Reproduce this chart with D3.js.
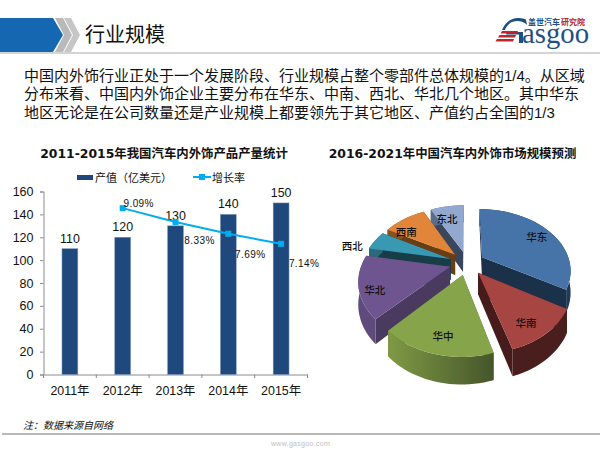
<!DOCTYPE html>
<html>
<head>
<meta charset="utf-8">
<script src="https://cdn.jsdelivr.net/npm/d3@7/dist/d3.min.js"></script>
<style>
  html, body { margin: 0; padding: 0; background: #fff; }
  text { font-family: "Liberation Sans", "Noto Sans CJK SC", sans-serif; fill: #111; }
</style>
</head>
<body>
<div id="chart-area"></div>
<script>
const years = ["2011年", "2012年", "2013年", "2014年", "2015年"];
const outputValues = [110, 120, 130, 140, 150];
const growthValues = [null, 9.09, 8.33, 7.69, 7.14];
const yTicks = [0, 20, 40, 60, 80, 100, 120, 140, 160];

const regions = ["华东", "华南", "华中", "华北", "西北", "西南", "东北"];
const regionShares = [33.5, 12, 16.5, 16, 5, 9.5, 7.5];
const regionTop = ["#4674a8", "#a64542", "#86a44a", "#6f5590", "#3a99b2", "#e0853a", "#92a8cf"];
const regionSide = ["#1b3049", "#451c1b", "#566b30", "#4a3a60", "#173e48", "#6b3d14", "#39465c"];
const regionOuter = ["#20395a", "#4a1e1c", "url(#greenWall)", "#5e4a7b", "#2a6a7c", "#8a5220", "#5a6c8c"];

const introLines = [
  "中国内外饰行业正处于一个发展阶段、行业规模占整个零部件总体规模的1/4。从区域",
  "分布来看、中国内外饰企业主要分布在华东、中南、西北、华北几个地区。其中华东",
  "地区无论是在公司数量还是产业规模上都要领先于其它地区、产值约占全国的1/3"
];

const canvas = d3.select("#chart-area").append("svg").attr("width", 600).attr("height", 450).style("display", "block");

const greenWall = canvas.append("defs").append("linearGradient").attr("id", "greenWall");
greenWall.append("stop").attr("offset", "0%").attr("stop-color", "#7f9a45");
greenWall.append("stop").attr("offset", "100%").attr("stop-color", "#45562a");

// header
canvas.append("polygon").attr("points", "0,18 53,18 63,35 53,52 0,52").attr("fill", "#1467b0");
canvas.append("polygon").attr("points", "55,18 63,18 72,35 63,52 55,52 64,35").attr("fill", "#b9b9b9");
canvas.append("polygon").attr("points", "64,18 71,18 80,35 71,52 64,52 73,35").attr("fill", "#c6c6c6");
canvas.append("rect").attr("x", 0).attr("y", 52).attr("width", 600).attr("height", 2).attr("fill", "#d4d4d4");
canvas.append("text").attr("x", 85).attr("y", 42).attr("font-size", 20).text("行业规模");

// logo
const logo = canvas.append("g");
logo.append("text").attr("x", 528).attr("y", 25).attr("font-size", 8).attr("font-weight", "bold")
  .style("fill", "#1d4f85").text("盖世汽车");
logo.append("text").attr("x", 561).attr("y", 25).attr("font-size", 8).attr("font-weight", "bold")
  .style("fill", "#b8262c").text("研究院");
logo.append("path").attr("d", "M526,19.5 L527,25 C523,20.5 514,19.5 509,24 C507,26 505.5,28 505,30 L502,30 C505,22 512,17.5 519,18 C522,18.2 524,18.7 526,19.5Z").attr("fill", "#1d4f85");
logo.append("path").attr("d", "M507,32 L523,32 L523,43 L519,43 L519,34.5 L506,34.5Z").attr("fill", "#1d4f85");
logo.append("text").attr("x", 522).attr("y", 43).attr("font-size", 30).attr("textLength", 67)
  .attr("lengthAdjust", "spacingAndGlyphs")
  .style("font-family", "Liberation Serif").style("fill", "#1d4f85").text("asgoo");
[0, 1, 2].forEach(i => {
  logo.append("polygon")
    .attr("points", `${502 - i * 2.5},${31 + i * 4} ${518 - i * 2},${31 + i * 4} ${517 - i * 2},${33.6 + i * 4} ${500.5 - i * 2.5},${33.6 + i * 4}`)
    .attr("fill", "#c0272d");
});

// intro text
canvas.selectAll(".intro").data(introLines).enter().append("text")
  .attr("class", "intro")
  .attr("x", 24)
  .attr("y", (d, i) => 80.5 + i * 18.5)
  .attr("font-size", 15)
  .text(d => d);

// chart titles
const titleFont = "\"DejaVu Sans\", \"Noto Sans CJK SC\", sans-serif";
canvas.append("text").attr("x", 164).attr("y", 157.5).attr("text-anchor", "middle").attr("font-size", 12.4)
  .attr("font-weight", "bold").style("font-family", titleFont).text("2011-2015年我国汽车内外饰产品产量统计");
canvas.append("text").attr("x", 452.5).attr("y", 157.5).attr("text-anchor", "middle").attr("font-size", 12.4)
  .attr("font-weight", "bold").style("font-family", titleFont).text("2016-2021年中国汽车内外饰市场规模预测");

// bar chart
const xScale = d3.scaleBand().domain(years).range([43.5, 307.5]).paddingInner(0.7).paddingOuter(0.35);
const yScale = d3.scaleLinear().domain([0, 160]).range([374.5, 191.5]);
const growthScale = d3.scaleLinear().domain([0, 10]).range([374.5, 191.5]);
const xMid = d => xScale(d) + xScale.bandwidth() / 2;

const yAxis = d3.axisLeft(yScale).tickValues(yTicks).tickSize(3.5).tickPadding(6.5);
const yGroup = canvas.append("g").attr("transform", "translate(43.5,0)").call(yAxis);
yGroup.selectAll("text").attr("font-size", 12.5);
yGroup.selectAll("line, path").attr("stroke", "#8c8c8c");

const xAxis = d3.axisBottom(xScale).tickSize(0).tickPadding(12);
const xGroup = canvas.append("g").attr("transform", "translate(0,374.5)").call(xAxis);
xGroup.selectAll("text").attr("font-size", 12.4);
xGroup.selectAll("path").attr("stroke", "#8c8c8c");
d3.range(years.length + 1).forEach(i => {
  const tx = 43.5 + i * (264 / years.length);
  canvas.append("line").attr("x1", tx).attr("x2", tx).attr("y1", 374.5).attr("y2", 378).attr("stroke", "#8c8c8c");
});

canvas.selectAll(".bar").data(outputValues).enter().append("rect")
  .attr("class", "bar")
  .attr("x", (d, i) => xScale(years[i]))
  .attr("y", d => yScale(d))
  .attr("width", xScale.bandwidth())
  .attr("height", d => yScale(0) - yScale(d))
  .attr("fill", "#1f497d")
  .attr("stroke", "#7f97b5")
  .attr("stroke-width", 0.5);

canvas.selectAll(".bar-label").data(outputValues).enter().append("text")
  .attr("class", "bar-label")
  .attr("x", (d, i) => xMid(years[i]))
  .attr("y", d => yScale(d) - 6)
  .attr("text-anchor", "middle")
  .attr("font-size", 12.4)
  .text(d => d);

// growth line
const growthRows = years.map((y, i) => ({ year: y, value: growthValues[i] })).filter(d => d.value !== null);
const growthLine = d3.line().x(d => xMid(d.year)).y(d => growthScale(d.value));
canvas.append("path").datum(growthRows).attr("d", growthLine).attr("fill", "none").attr("stroke", "#00aeef").attr("stroke-width", 2);
canvas.selectAll(".growth-pt").data(growthRows).enter().append("rect")
  .attr("class", "growth-pt")
  .attr("x", d => xMid(d.year) - 3)
  .attr("y", d => growthScale(d.value) - 3)
  .attr("width", 6).attr("height", 6)
  .attr("fill", "#00aeef");

const growthOffsets = [[16, -1], [24, 22], [22, 24], [23, 23]];
canvas.selectAll(".growth-label").data(growthRows).enter().append("text")
  .attr("class", "growth-label")
  .attr("x", (d, i) => xMid(d.year) + growthOffsets[i][0])
  .attr("y", (d, i) => growthScale(d.value) + growthOffsets[i][1])
  .attr("text-anchor", "middle")
  .attr("font-size", 10)
  .attr("letter-spacing", 0.4)
  .text(d => d.value.toFixed(2) + "%");

// legend
canvas.append("rect").attr("x", 77).attr("y", 175).attr("width", 16).attr("height", 5).attr("fill", "#1f497d");
canvas.append("text").attr("x", 95).attr("y", 182).attr("font-size", 11).text("产值（亿美元）");
canvas.append("line").attr("x1", 193).attr("x2", 211).attr("y1", 177).attr("y2", 177).attr("stroke", "#00aeef").attr("stroke-width", 2);
canvas.append("rect").attr("x", 199).attr("y", 174).attr("width", 6).attr("height", 6).attr("fill", "#00aeef");
canvas.append("text").attr("x", 212).attr("y", 182).attr("font-size", 11).text("增长率");

// exploded 3d pie, drawn from d3.pie angles through a small perspective projection
const pieAngles = d3.pie().sort(null)(regionShares);
const pieCx = 467, pieCy = 263, pieR = 88, pieTilt = 0.68, pieDepth = 21, pieP = 0.2, pieGap = 0.2;
function project(x, z, h) {
  const s = 1 / (1 - pieP * z);
  return [pieCx + pieR * x * s, pieCy + pieR * pieTilt * z * s + h * s];
}
function slicePoint(a, r, mid, h) {
  const x = r * Math.sin(a) + pieGap * Math.sin(mid);
  const z = -r * Math.cos(a) - pieGap * Math.cos(mid);
  return project(x, z, h);
}
const pieLine = d3.line();
const arcAngles = (a0, a1) => d3.range(0, 25).map(i => a0 + (a1 - a0) * i / 24);

const pieGroup = canvas.append("g");
const pieOrder = pieAngles.map((d, i) => ({ ...d, i, mid: (d.startAngle + d.endAngle) / 2 }))
  .sort((a, b) => -Math.cos(a.mid) - -Math.cos(b.mid));

pieOrder.forEach(d => {
  const g = pieGroup.append("g");
  const tip = h => slicePoint(0, 0, d.mid, h);
  const rim = h => arcAngles(d.startAngle, d.endAngle).map(a => slicePoint(a, 1, d.mid, h));
  const rimTop = rim(0), rimBottom = rim(pieDepth);
  // radial walls
  g.append("path").attr("d", pieLine([tip(0), rimTop[0], rimBottom[0], tip(pieDepth)]) + "Z").attr("fill", regionSide[d.i]);
  g.append("path").attr("d", pieLine([tip(0), rimTop[24], rimBottom[24], tip(pieDepth)]) + "Z").attr("fill", regionSide[d.i]);
  // outer wall
  g.append("path").attr("d", pieLine(rimTop.concat(rimBottom.slice().reverse())) + "Z").attr("fill", regionOuter[d.i]);
  // top face
  g.append("path").attr("d", pieLine([tip(0)].concat(rimTop)) + "Z").attr("fill", regionTop[d.i]);
});

const regionLabelPos = [0.68, 0.8, 0.85, 0.8, 1.3, 0.72, 0.72];
const regionLabelNudge = [[8, -2], [-5, 4], [3, -4], [-3, 7], [-2, 11], [-11, 4], [-4, 1]];
pieOrder.forEach(d => {
  const p = slicePoint(d.mid, regionLabelPos[d.i], d.mid, 0);
  pieGroup.append("text")
    .attr("x", p[0] + regionLabelNudge[d.i][0])
    .attr("y", p[1] + 4 + regionLabelNudge[d.i][1])
    .attr("text-anchor", "middle")
    .attr("font-size", 10.5).attr("font-weight", 500).style("font-family", "Noto Sans CJK SC").text(regions[d.i]);
});

// footer
canvas.append("text").attr("x", 23).attr("y", 428.5).attr("font-size", 10).attr("font-style", "italic").text("注：数据来源自网络");
canvas.append("rect").attr("x", 2).attr("y", 433).attr("width", 598).attr("height", 2).attr("fill", "#b8b8b8");
canvas.append("text").attr("x", 271).attr("y", 446).attr("font-size", 7).attr("letter-spacing", 0.3)
  .style("fill", "#bdbdbd").text("www.gasgoo.com");
</script>
</body>
</html>
